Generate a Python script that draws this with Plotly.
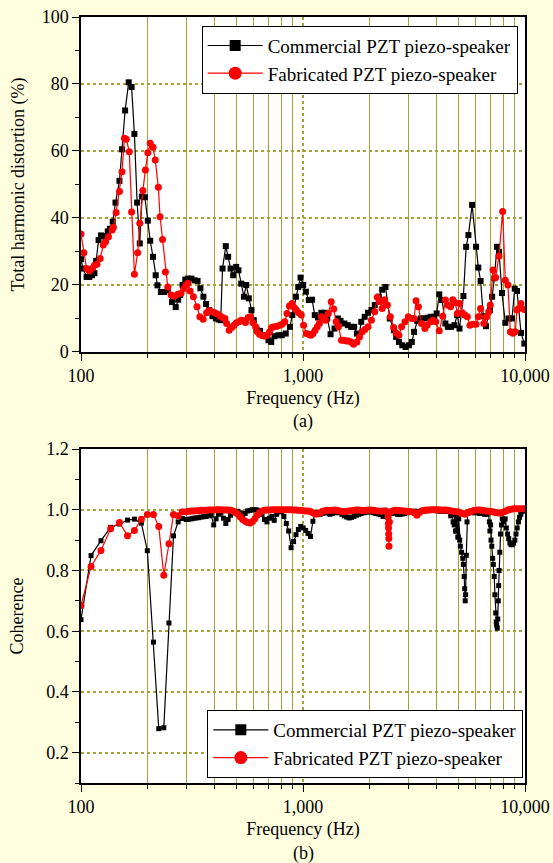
import plotly.graph_objects as go

# ---------------- (a) Total harmonic distortion (%) ----------------
THD_COM_F = [100, 102, 106, 109, 112, 115, 117, 120, 123, 126, 129, 132, 135, 139, 143, 149, 153, 158, 164, 169,
             174, 179, 184, 188, 194, 200, 205, 211, 217, 221, 229, 237, 246, 257, 267, 274, 280, 287, 295, 303,
             314, 325, 335, 345, 356, 366, 378, 391, 405, 417, 426, 434, 449, 460, 472, 485, 500, 512, 527, 542,
             555, 570, 586, 600, 618, 640, 664, 699, 719, 744, 775, 803, 836, 873, 895, 929, 952, 975, 1002, 1030,
             1062, 1099, 1130, 1168, 1209, 1251, 1286, 1331, 1387, 1436, 1476, 1537, 1592, 1648, 1700, 1750, 1790,
             1830, 1896, 1963, 2033, 2105, 2195, 2273, 2353, 2460, 2567, 2628, 2705, 2800, 2899, 3000, 3090, 3165,
             3270, 3390, 3510, 3635, 3760, 3900, 4000, 4110, 4230, 4380, 4490, 4650, 4810, 4950, 5070, 5280, 5430,
             5560, 5780, 6020, 6160, 6310, 6490, 6670, 6950, 7110, 7277, 7478, 7640, 7876, 8153, 8441, 8740, 8988,
             9204, 9594, 9932]
THD_COM_V = [27.7, 24.9, 22.4, 22.4, 22.9, 23.5, 27.2, 33.4, 34.8, 34.6, 34.0, 36.0, 36.8, 38.9, 44.6, 51.1, 60.5, 72.1, 80.5, 79.1,
             65.1, 44.6, 32.4, 46.4, 46.2, 39.2, 33.2, 28.4, 22.9, 19.9, 17.9, 17.9, 18.4, 14.9, 13.4, 15.6, 17.0, 20.0, 21.6, 21.9,
             21.9, 21.4, 21.2, 19.0, 16.5, 14.3, 12.5, 10.7, 10.0, 9.7, 9.5, 24.9, 31.6, 28.4, 24.9, 22.9, 25.4, 24.4, 20.4, 16.5,
             20.0, 16.0, 12.5, 9.5, 6.7, 6.3, 5.0, 3.5, 3.0, 4.7, 5.0, 5.0, 5.5, 7.5, 11.0, 16.5, 19.4, 22.2, 20.0, 18.0,
             15.5, 15.6, 11.0, 10.3, 11.7, 11.7, 10.0, 5.3, 7.0, 10.0, 9.3, 8.5, 8.0, 7.5, 7.5, 5.5, 5.0,
             9.0, 10.5, 11.7, 12.5, 14.0, 16.5, 18.6, 19.4, 10.0, 6.5, 4.5, 3.0, 2.0, 1.5, 2.0, 3.0, 6.0,
             9.3, 10.0, 10.0, 10.2, 10.5, 10.5, 11.5, 17.2, 15.5, 8.5, 7.5, 7.5, 8.0, 11.0, 7.0, 16.7, 31.4,
             34.9, 43.9, 31.4, 25.2, 21.2, 10.7, 7.7, 12.5, 16.5, 22.0, 31.4, 29.9, 17.6, 8.7, 10.0, 10.0, 18.9,
             18.2, 5.7, 2.5]

THD_FAB_F = [100, 103, 106, 109, 112, 115, 118, 122, 126, 129, 133, 138, 140, 144, 149, 153, 157, 160, 165, 169,
             174, 180, 184, 190, 195, 200, 205, 211, 216, 223, 227, 233, 240, 246, 255, 263, 273, 282, 290, 297,
             303, 310, 321, 333, 343, 355, 368, 377, 388, 400, 411, 425, 434, 445, 453, 465, 478, 489, 501, 515,
             527, 538, 551, 566, 580, 595, 612, 622, 637, 655, 673, 690, 707, 722, 742, 765, 786, 805, 828, 847,
             868, 892, 914, 933, 956, 982, 1006, 1035, 1060, 1085, 1110, 1135, 1160, 1185, 1210, 1240, 1265, 1300,
             1340, 1375, 1410, 1445, 1490, 1530, 1570, 1604, 1650, 1690, 1750, 1796, 1847, 1900, 1963, 2033, 2105,
             2160, 2220, 2273, 2335, 2400, 2475, 2560, 2628, 2705, 2780, 2880, 2980, 3090, 3165, 3230, 3310, 3420,
             3540, 3625, 3760, 3850, 3960, 4110, 4260, 4380, 4490, 4620, 4730, 4850, 4960, 5070, 5220, 5350, 5500,
             5650, 5820, 6020, 6160, 6305, 6524, 6710, 6870, 6980, 7174, 7374, 7634, 7930, 8152, 8380, 8590, 8826,
             9040, 9200, 9362, 9590, 9927]
THD_FAB_V = [35.2, 29.6, 24.9, 24.2, 24.9, 25.9, 26.2, 27.9, 31.9, 32.9, 34.4, 36.4, 37.2, 41.6, 47.9, 53.8, 63.8, 63.5, 59.8, 41.8,
             23.2, 29.6, 38.4, 48.2, 54.3, 59.5, 62.3, 61.1, 57.3, 49.2, 40.4, 33.6, 23.9, 19.4, 17.0, 16.6, 17.2, 17.5, 18.9, 20.0,
             20.5, 18.2, 16.5, 13.5, 10.5, 9.8, 11.7, 12.3, 12.0, 11.7, 11.3, 10.7, 10.3, 10.0, 8.5, 6.5, 7.3, 8.0, 8.7, 9.0,
             9.5, 9.3, 8.8, 10.3, 10.5, 8.7, 7.5, 6.0, 5.3, 4.9, 4.7, 5.0, 6.0, 7.3, 7.5, 7.7, 8.0, 8.3, 9.0, 11.5,
             13.7, 14.5, 13.3, 12.5, 11.7, 11.0, 8.0, 5.5, 5.3, 5.0, 5.5, 6.5, 7.5, 8.5, 10.5, 10.0, 9.5, 11.5,
             15.0, 12.8, 9.0, 7.5, 3.5, 3.5, 3.3, 3.3, 3.0, 2.3, 3.0, 4.5, 6.0, 6.7, 7.5, 9.5, 12.0,
             16.3, 15.0, 13.0, 15.6, 14.0, 10.5, 7.3, 5.7, 5.0, 7.5, 9.0, 10.5, 10.0, 10.0, 15.3, 13.5, 8.5,
             7.0, 8.0, 9.0, 9.5, 9.0, 6.3, 10.7, 15.5, 14.0, 13.5, 15.6, 14.7, 11.5, 14.5, 11.7, 11.0, 10.5,
             8.0, 8.3, 8.3, 10.5, 13.0, 8.5, 10.5, 12.0, 14.0, 24.5, 22.2, 28.6, 41.9, 21.4, 20.0, 6.0, 5.6,
             6.0, 12.5, 13.0, 14.5, 12.7]

# ---------------- (b) Coherence ----------------
COH_LOW_F = [100, 111, 123, 136, 149, 162, 174, 187, 199, 212, 224, 236, 249, 261, 274, 286]
COH_COM_LOW = [0.638, 0.849, 0.898, 0.942, 0.953, 0.966, 0.969, 0.956, 0.865, 0.564, 0.279, 0.282, 0.627, 0.914, 0.960, 0.971]
COH_FAB_LOW = [0.685, 0.813, 0.866, 0.937, 0.958, 0.914, 0.932, 0.969, 0.984, 0.984, 0.945, 0.784, 0.888, 0.984, 0.980, 0.993]

COH_HI_F = [298, 306, 314, 322, 330, 339, 348, 357, 366, 376,
            386, 396, 406, 416, 427, 438, 449, 460, 472, 484,
            496, 509, 522, 535, 549, 563, 577, 592, 607, 622,
            638, 654, 671, 688, 706, 724, 742, 761, 780, 800,
            820, 841, 862, 884, 907, 930, 953, 977, 1002, 1028,
            1054, 1081, 1108, 1136, 1165, 1195, 1225, 1256, 1288, 1321,
            1355, 1389, 1424, 1460, 1497, 1535, 1574, 1614, 1655, 1697,
            1740, 1784, 1830, 1876, 1924, 1973, 2023, 2074, 2127, 2181,
            2236, 2293, 2351, 2411, 2472, 2535, 2599, 2665, 2733, 2802,
            2873, 2946, 3021, 3098, 3176, 3257, 3340, 3424, 3511, 3600,
            3692, 3786, 3882, 3980, 4081, 4185, 4291, 4400, 4512, 4627,
            4744, 4865, 4988, 5115, 5245, 5378, 5515, 5655, 5798, 5946,
            6097, 6252, 6411, 6573, 6740, 6912, 7087, 7267, 7452, 7641,
            7835, 8034, 8238, 8447, 8662, 8882, 9107, 9339, 9576, 9819, 10000]
COH_FAB_HI = [0.993, 0.995, 0.996, 0.996, 0.997, 0.997, 0.998, 0.998, 0.998, 0.999,
              0.999, 0.999, 1.0, 1.0, 1.0, 0.999, 0.999, 0.999, 0.998, 0.996,
              0.992, 0.985, 0.976, 0.968, 0.962, 0.958, 0.956, 0.961, 0.970, 0.982,
              0.991, 0.996, 0.998, 0.999, 0.999, 1.0, 1.0, 1.0, 1.0, 1.0,
              1.0, 1.0, 1.0, 1.0, 0.999, 0.999, 0.998, 0.998, 0.997, 0.996,
              0.996, 0.994, 0.990, 0.986, 0.986, 0.990, 0.995, 0.997, 0.998, 0.998,
              0.998, 0.999, 0.998, 0.996, 0.995, 0.994, 0.995, 0.996, 0.997, 0.998,
              0.999, 0.999, 0.998, 0.997, 0.998, 0.999, 0.999, 0.998, 0.997, 0.996,
              0.995, 0.996, 0.997, 0.990, 0.993, 0.996, 0.998, 0.998, 0.997, 0.997,
              0.996, 0.995, 0.994, 0.993, 0.990, 0.982, 0.990, 0.996, 0.998, 0.999,
              0.999, 1.0, 1.0, 1.0, 1.0, 0.999, 0.999, 0.999, 0.998, 0.997,
              0.995, 0.994, 0.993, 0.990, 0.988, 0.985, 0.990, 0.994, 0.996, 0.998,
              0.999, 0.999, 0.998, 0.997, 0.996, 0.995, 0.994, 0.992, 0.990, 0.989,
              0.990, 0.993, 0.997, 1.0, 1.002, 1.003, 1.003, 1.003, 1.003, 1.003, 1.003]
COH_COM_HI = [0.968, 0.969, 0.970, 0.972, 0.973, 0.974, 0.976, 0.977, 0.978, 0.980,
              0.982, 0.950, 0.970, 0.985, 0.990, 0.972, 0.955, 0.968, 0.982, 0.990,
              0.993, 0.995, 0.990, 0.978, 0.988, 0.996, 0.998, 1.0, 1.0, 0.999,
              0.995, 0.985, 0.968, 0.960, 0.972, 0.978, 0.965, 0.985, 0.995, 0.993,
              0.978, 0.955, 0.930, 0.875, 0.895, 0.918, 0.935, 0.945, 0.940, 0.932,
              0.922, 0.912, 0.962, 0.989, 0.990, 0.985, 0.988, 0.990, 0.990, 0.985,
              0.988, 0.990, 0.992, 0.990, 0.985, 0.980, 0.976, 0.973, 0.975, 0.978,
              0.982, 0.985, 0.988, 0.990, 0.992, 0.993, 0.993, 0.990, 0.988, 0.986,
              0.984, 0.978, 0.982, 0.986, 0.988, 0.990, 0.988, 0.985, 0.984, 0.986,
              0.988, 0.990, 0.992, 0.994, 0.995, 0.995, 0.994, 0.995, 0.996, 0.997,
              0.997, 0.998, 0.998, 0.997, 0.996, 0.995, 0.995, 0.996, 0.994, 0.980,
              0.960, 0.930, 0.910, 0.880, 0.840, 0.700, 0.990, 0.990, 0.992, 0.990,
              0.990, 0.988, 0.990, 0.985, 0.985, 0.960, 0.880, 0.780, 0.620, 0.800,
              0.950, 0.960, 0.940, 0.905, 0.885, 0.890, 0.920, 0.960, 0.985, 0.995, 1.0]

# extra readings inside the narrow dips
COH_FAB_DIP_F = [2418, 2424, 2428, 2432, 2436, 2440, 2450]
COH_FAB_DIP_V = [0.975, 0.955, 0.940, 0.920, 0.905, 0.880, 0.960]
COH_COM_DIP_F = [4700, 4800, 4830, 4900, 4930, 5000, 5030, 5080, 5180, 5280, 5320, 5350, 5400, 5440, 5480,
                 6850, 6950, 7000, 7030, 7150, 7200, 7320, 7380, 7420, 7500, 7540, 7580, 7610, 7700, 7760,
                 7900, 8140, 8350, 8550, 8760, 9000, 9220, 9450]
COH_COM_DIP_V = [0.985, 0.950, 0.990, 0.930, 0.980, 0.910, 0.970, 0.900, 0.860, 0.820, 0.780, 0.740, 0.720, 0.850, 0.960,
                 0.990, 0.930, 0.950, 0.900, 0.840, 0.820, 0.720, 0.660, 0.630, 0.610, 0.640, 0.700, 0.750, 0.860, 0.920,
                 0.970, 0.970, 0.920, 0.890, 0.885, 0.900, 0.940, 0.975]

X_TICKS = [100, 1000, 10000]
X_TICK_TEXT = ["100", "1,000", "10,000"]
X_MINOR = [200, 300, 400, 500, 600, 700, 800, 900, 2000, 3000, 4000, 5000, 6000, 7000, 8000, 9000]
NAME_COM = "Commercial PZT piezo-speaker"
NAME_FAB = "Fabricated PZT piezo-speaker"


def merged(f1, v1, f2, v2):
    pts = sorted(zip(list(f1) + list(f2), list(v1) + list(v2)), key=lambda p: p[0])
    return [p[0] for p in pts], [p[1] for p in pts]


coh_com_f, coh_com_v = merged(COH_LOW_F + COH_HI_F, COH_COM_LOW + COH_COM_HI, COH_COM_DIP_F, COH_COM_DIP_V)
coh_fab_f, coh_fab_v = merged(COH_LOW_F + COH_HI_F, COH_FAB_LOW + COH_FAB_HI, COH_FAB_DIP_F, COH_FAB_DIP_V)

BLACK = "#000000"
RED = "#ff0000"
GRID = "#a3a33a"
FONT = "Liberation Serif"

fig = go.Figure()
fig.add_trace(go.Scatter(x=THD_COM_F, y=THD_COM_V, mode="lines+markers", showlegend=False,
                         line=dict(color=BLACK, width=1.2),
                         marker=dict(symbol="square", size=6, color=BLACK),
                         xaxis="x", yaxis="y"))
fig.add_trace(go.Scatter(x=THD_FAB_F, y=THD_FAB_V, mode="lines+markers", showlegend=False,
                         line=dict(color=RED, width=1.2),
                         marker=dict(symbol="circle", size=7, color=RED),
                         xaxis="x", yaxis="y"))
fig.add_trace(go.Scatter(x=coh_com_f, y=coh_com_v, mode="lines+markers", showlegend=False,
                         line=dict(color=BLACK, width=1.2),
                         marker=dict(symbol="square", size=5, color=BLACK),
                         xaxis="x2", yaxis="y2"))
fig.add_trace(go.Scatter(x=coh_fab_f, y=coh_fab_v, mode="lines+markers", showlegend=False,
                         line=dict(color=RED, width=1.2),
                         marker=dict(symbol="circle", size=7, color=RED),
                         xaxis="x2", yaxis="y2"))

# legend entries (large symbols like the original legends)
for lg, xa, ya in (("legend", "x", "y"), ("legend2", "x2", "y2")):
    fig.add_trace(go.Scatter(x=[None], y=[None], mode="lines+markers", name=NAME_COM,
                             line=dict(color=BLACK, width=1.2),
                             marker=dict(symbol="square", size=11, color=BLACK),
                             xaxis=xa, yaxis=ya, legend=lg))
    fig.add_trace(go.Scatter(x=[None], y=[None], mode="lines+markers", name=NAME_FAB,
                             line=dict(color=RED, width=1.2),
                             marker=dict(symbol="circle", size=13, color=RED),
                             xaxis=xa, yaxis=ya, legend=lg))

xcommon = dict(type="log", range=[2, 4], tickmode="array", tickvals=X_TICKS, ticktext=X_TICK_TEXT,
               ticks="outside", ticklen=7, tickwidth=1.2, tickcolor=BLACK,
               showline=True, linecolor=BLACK, linewidth=1.5, mirror=True,
               showgrid=True, gridcolor=GRID, gridwidth=1.5, griddash="dot",
               minor=dict(tickmode="array", tickvals=X_MINOR, ticks="outside", ticklen=4,
                          tickcolor=BLACK, showgrid=True, gridcolor=GRID, gridwidth=1.3, griddash="solid"),
               zeroline=False, automargin=False,
               tickfont=dict(family=FONT, size=18),
               title=dict(text="Frequency (Hz)", standoff=6, font=dict(family=FONT, size=18)))
ycommon = dict(ticks="outside", ticklen=7, tickwidth=1.2, tickcolor=BLACK,
               showline=True, linecolor=BLACK, linewidth=1.5, mirror=True,
               showgrid=True, gridcolor=GRID, gridwidth=1.5, griddash="dot",
               zeroline=False, automargin=False, tickfont=dict(family=FONT, size=18))

fig.update_layout(
    width=553, height=863,
    margin=dict(l=81, r=28, t=17, b=80),
    paper_bgcolor="#ffffe0", plot_bgcolor="#ffffff",
    font=dict(family=FONT, size=18, color=BLACK),
    xaxis=dict(domain=[0, 1], anchor="y", **xcommon),
    yaxis=dict(domain=[0.5627, 1], anchor="x", range=[0, 100], tickmode="array",
               tickvals=[0, 20, 40, 60, 80, 100],
               minor=dict(tickmode="array", tickvals=[10, 30, 50, 70, 90], ticks="outside", ticklen=4,
                          tickcolor=BLACK, showgrid=False),
               title=dict(text="Total harmonic distortion (%)", standoff=12, font=dict(family=FONT, size=18)),
               **ycommon),
    xaxis2=dict(domain=[0, 1], anchor="y2", **xcommon),
    yaxis2=dict(domain=[0, 0.436], anchor="x2", range=[0.1, 1.2], tickmode="array",
                tickvals=[0.2, 0.4, 0.6, 0.8, 1.0, 1.2],
                ticktext=["0.2", "0.4", "0.6", "0.8", "1.0", "1.2"],
                minor=dict(tickmode="array", tickvals=[0.1, 0.3, 0.5, 0.7, 0.9, 1.1], ticks="outside",
                           ticklen=4, tickcolor=BLACK, showgrid=False),
                title=dict(text="Coherence", standoff=18, font=dict(family=FONT, size=18)), **ycommon),
    legend=dict(x=0.2718, y=0.9887, xanchor="left", yanchor="top", bgcolor="#ffffff",
                bordercolor=BLACK, borderwidth=1, itemwidth=55,
                font=dict(family=FONT, size=19), tracegroupgap=0),
    legend2=dict(x=0.2845, y=0.0065, xanchor="left", yanchor="bottom", bgcolor="#ffffff",
                 bordercolor=BLACK, borderwidth=1, itemwidth=55,
                 font=dict(family=FONT, size=19), tracegroupgap=0),
    annotations=[
        dict(text="(a)", x=0.5, y=0.4718, xref="paper", yref="paper", showarrow=False,
             xanchor="center", yanchor="middle", font=dict(family=FONT, size=18)),
        dict(text="(b)", x=0.5, y=-0.0914, xref="paper", yref="paper", showarrow=False,
             xanchor="center", yanchor="middle", font=dict(family=FONT, size=18)),
    ],
)

fig.write_html("out.html")
